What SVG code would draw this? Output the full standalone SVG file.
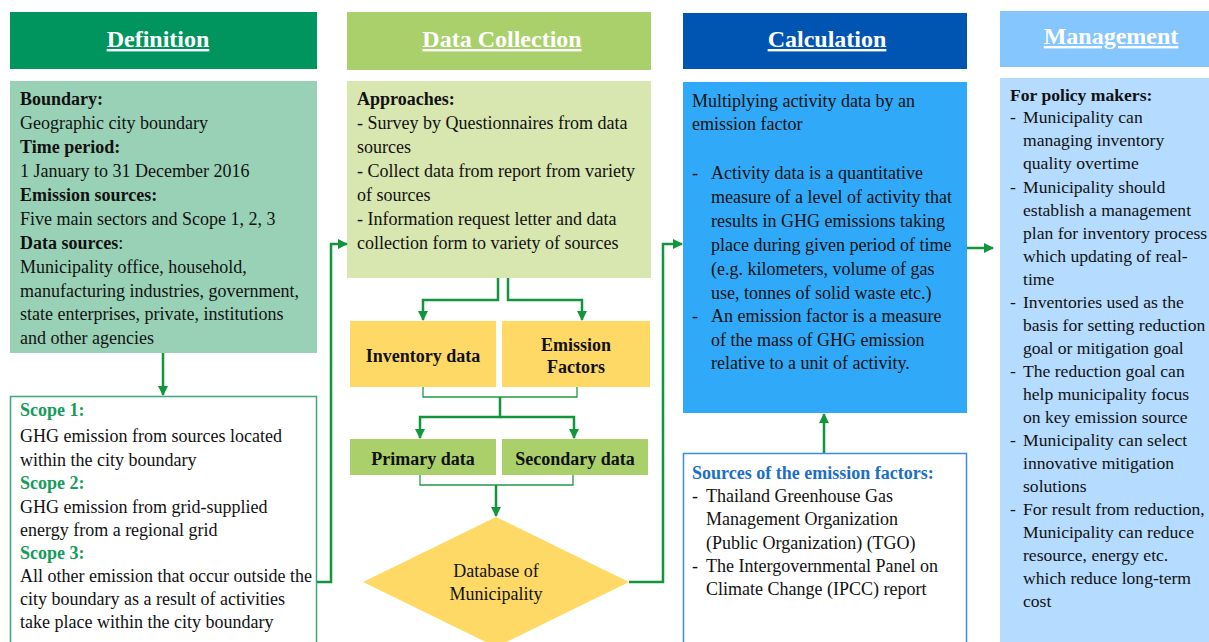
<svg xmlns="http://www.w3.org/2000/svg" width="1209" height="642" viewBox="0 0 1209 642">
  <defs>
    <marker id="arrow" viewBox="0 0 10 10" refX="9" refY="5" markerWidth="4" markerHeight="4" orient="auto">
      <path d="M0,0 L10,5 L0,10 z" fill="#12963c"/>
    </marker>
    <style>
      text { font-family: "Liberation Serif", "Times New Roman", serif; font-size: 18px; fill: #111; }
      .hd { font-size: 24px; font-weight: bold; fill: #fff; text-anchor: middle; text-decoration: underline; }
      .b { font-weight: bold; }
      .c { text-anchor: middle; }
      .sc { font-weight: bold; fill: #179a5c; }
      .sb { font-weight: bold; fill: #1d6fc4; }
      .mg { font-size: 17.6px; }
      .flow { fill: none; stroke: #12963c; stroke-width: 2.5; }
      .thin { fill: none; stroke: #1f9a45; stroke-width: 1.3; }
    </style>
  </defs>

  <rect width="1209" height="642" fill="#fff"/>

  <!-- Definition column -->
  <g id="definition-header">
    <rect x="10" y="12" width="307" height="57" fill="#00945f"/>
    <text class="hd" x="158" y="47">Definition</text>
  </g>
  <g id="definition-body">
    <rect x="10" y="81" width="307" height="272" fill="#99d1b6"/>
    <text class="b" x="20" y="105">Boundary:</text>
    <text x="20" y="129">Geographic city boundary</text>
    <text class="b" x="20" y="153">Time period:</text>
    <text x="20" y="177">1 January to 31 December 2016</text>
    <text class="b" x="20" y="201">Emission sources:</text>
    <text x="20" y="225">Five main sectors and Scope 1, 2, 3</text>
    <text x="20" y="249"><tspan class="b">Data sources</tspan>:</text>
    <text x="20" y="273">Municipality office, household,</text>
    <text x="20" y="297">manufacturing industries, government,</text>
    <text x="20" y="320">state enterprises, private, institutions</text>
    <text x="20" y="344">and other agencies</text>
  </g>
  <g id="scopes">
    <rect x="10.5" y="396.5" width="306" height="260" fill="#fff" stroke="#3aa877" stroke-width="1.5"/>
    <text class="sc" x="20" y="416">Scope 1:</text>
    <text x="20" y="442">GHG emission from sources located</text>
    <text x="20" y="466">within the city boundary</text>
    <text class="sc" x="20" y="489">Scope 2:</text>
    <text x="20" y="513">GHG emission from grid-supplied</text>
    <text x="20" y="536">energy from a regional grid</text>
    <text class="sc" x="20" y="559">Scope 3:</text>
    <text x="20" y="582">All other emission that occur outside the</text>
    <text x="20" y="605">city boundary as a result of activities</text>
    <text x="20" y="628">take place within the city boundary</text>
  </g>

  <!-- Data Collection column -->
  <g id="data-collection-header">
    <rect x="347" y="12" width="304" height="58" fill="#a9d06b"/>
    <text class="hd" x="502" y="47">Data Collection</text>
  </g>
  <g id="data-collection-body">
    <rect x="347" y="81" width="304" height="197" fill="#d8e6b0"/>
    <text class="b" x="357" y="105">Approaches:</text>
    <text x="357" y="129">- Survey by Questionnaires from data</text>
    <text x="357" y="153">sources</text>
    <text x="357" y="177">- Collect data from report from variety</text>
    <text x="357" y="201">of sources</text>
    <text x="357" y="225">- Information request letter and data</text>
    <text x="357" y="249">collection form to variety of sources</text>
  </g>
  <g id="inventory-data">
    <rect x="350" y="321" width="146" height="66" fill="#ffd966"/>
    <text class="b c" x="423" y="362">Inventory data</text>
  </g>
  <g id="emission-factors">
    <rect x="502" y="321" width="148" height="66" fill="#ffd966"/>
    <text class="b c" x="576" y="351">Emission</text>
    <text class="b c" x="576" y="373">Factors</text>
  </g>
  <g id="primary-data">
    <rect x="350" y="439" width="146" height="36" fill="#a9d06b"/>
    <text class="b c" x="423" y="465">Primary data</text>
  </g>
  <g id="secondary-data">
    <rect x="502" y="439" width="146" height="36" fill="#a9d06b"/>
    <text class="b c" x="575" y="465">Secondary data</text>
  </g>
  <g id="database">
    <polygon points="496,517 629,582 496,647 363,582" fill="#ffd966"/>
    <text class="c" x="496" y="577">Database of</text>
    <text class="c" x="496" y="600">Municipality</text>
  </g>

  <!-- Calculation column -->
  <g id="calculation-header">
    <rect x="683" y="13" width="284" height="56" fill="#0055b2"/>
    <text class="hd" x="827" y="47">Calculation</text>
  </g>
  <g id="calculation-body">
    <rect x="683" y="82" width="284" height="331" fill="#30aaf8"/>
    <text x="692" y="107">Multiplying activity data by an</text>
    <text x="692" y="130">emission factor</text>
    <text x="692" y="179">-</text>
    <text x="711" y="179">Activity data is a quantitative</text>
    <text x="711" y="203">measure of a level of activity that</text>
    <text x="711" y="227">results in GHG emissions taking</text>
    <text x="711" y="251">place during given period of time</text>
    <text x="711" y="275">(e.g. kilometers, volume of gas</text>
    <text x="711" y="299">use, tonnes of solid waste etc.)</text>
    <text x="692" y="322">-</text>
    <text x="711" y="322">An emission factor is a measure</text>
    <text x="711" y="346">of the mass of GHG emission</text>
    <text x="711" y="369">relative to a unit of activity.</text>
  </g>
  <g id="emission-factor-sources">
    <rect x="683.5" y="453.5" width="283" height="200" fill="#fff" stroke="#3b8de0" stroke-width="1.5"/>
    <text class="sb" x="692" y="479">Sources of the emission factors:</text>
    <text x="692" y="502">-</text>
    <text x="706" y="502">Thailand Greenhouse Gas</text>
    <text x="706" y="525">Management Organization</text>
    <text x="706" y="549">(Public Organization) (TGO)</text>
    <text x="692" y="572">-</text>
    <text x="706" y="572">The Intergovernmental Panel on</text>
    <text x="706" y="595">Climate Change (IPCC) report</text>
  </g>

  <!-- Management column -->
  <g id="management-header">
    <rect x="1000" y="11" width="209" height="56" fill="#85c6ff"/>
    <text class="hd" x="1111" y="44">Management</text>
  </g>
  <g id="management-body">
    <rect x="1000" y="78" width="209" height="564" fill="#b5dcff"/>
    <text class="b mg" x="1010" y="101">For policy makers:</text>
    <g class="mg">
      <text class="mg" x="1010" y="123">-</text>
      <text class="mg" x="1023" y="123">Municipality can</text>
      <text class="mg" x="1023" y="146">managing inventory</text>
      <text class="mg" x="1023" y="169">quality overtime</text>
      <text class="mg" x="1010" y="193">-</text>
      <text class="mg" x="1023" y="193">Municipality should</text>
      <text class="mg" x="1023" y="216">establish a management</text>
      <text class="mg" x="1023" y="239">plan for inventory process</text>
      <text class="mg" x="1023" y="262">which updating of real-</text>
      <text class="mg" x="1023" y="285">time</text>
      <text class="mg" x="1010" y="308">-</text>
      <text class="mg" x="1023" y="308">Inventories used as the</text>
      <text class="mg" x="1023" y="331">basis for setting reduction</text>
      <text class="mg" x="1023" y="354">goal or mitigation goal</text>
      <text class="mg" x="1010" y="377">-</text>
      <text class="mg" x="1023" y="377">The reduction goal can</text>
      <text class="mg" x="1023" y="400">help municipality focus</text>
      <text class="mg" x="1023" y="423">on key emission source</text>
      <text class="mg" x="1010" y="446">-</text>
      <text class="mg" x="1023" y="446">Municipality can select</text>
      <text class="mg" x="1023" y="469">innovative mitigation</text>
      <text class="mg" x="1023" y="492">solutions</text>
      <text class="mg" x="1010" y="515">-</text>
      <text class="mg" x="1023" y="515">For result from reduction,</text>
      <text class="mg" x="1023" y="538">Municipality can reduce</text>
      <text class="mg" x="1023" y="561">resource, energy etc.</text>
      <text class="mg" x="1023" y="584">which reduce long-term</text>
      <text class="mg" x="1023" y="607">cost</text>
    </g>
  </g>

  <!-- Connectors -->
  <g id="connectors">
    <path class="flow" d="M163,353 V395" marker-end="url(#arrow)"/>
    <path class="flow" d="M317,582 H331 V244 H347" marker-end="url(#arrow)"/>
    <path class="flow" d="M498,278 V300 H423 V320" marker-end="url(#arrow)"/>
    <path class="flow" d="M508,278 V300 H582 V320" marker-end="url(#arrow)"/>
    <path class="thin" d="M423,387 V397 H577 V387"/>
    <path class="flow" d="M500,397 V417 H420 V438" marker-end="url(#arrow)"/>
    <path class="flow" d="M500,417 H574 V438" marker-end="url(#arrow)"/>
    <path class="thin" d="M420,475 V485 H573 V475"/>
    <path class="flow" d="M496,485 V516" marker-end="url(#arrow)"/>
    <path class="flow" d="M629,582 H663 V244 H682" marker-end="url(#arrow)"/>
    <path class="flow" d="M824,453 V414" marker-end="url(#arrow)"/>
    <path class="flow" d="M967,248 H993" marker-end="url(#arrow)"/>
  </g>
</svg>
